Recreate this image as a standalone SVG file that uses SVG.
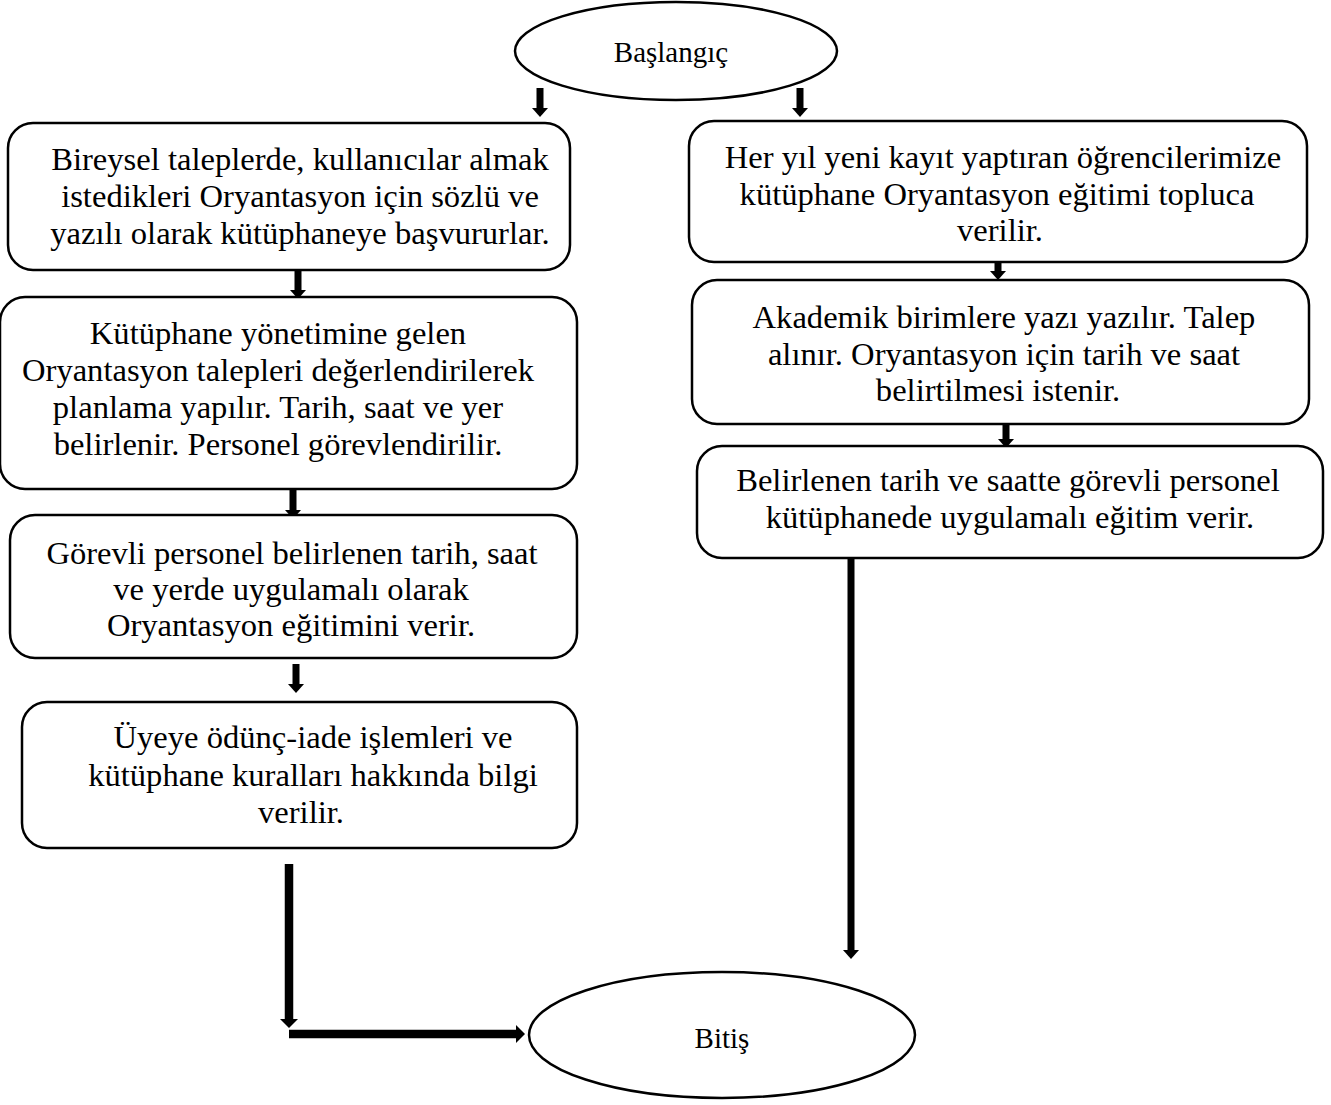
<svg xmlns="http://www.w3.org/2000/svg" width="1331" height="1105" viewBox="0 0 1331 1105">
  <style>
    .box { fill: #ffffff; stroke: #000000; stroke-width: 2.5; }
    .term { fill: #ffffff; stroke: #000000; stroke-width: 2.5; }
    .t { font-family: "Liberation Serif", "Times New Roman", serif; font-size: 32.6px; fill: #000000; text-anchor: middle; }
    .tt { font-family: "Liberation Serif", "Times New Roman", serif; font-size: 29px; fill: #000000; text-anchor: middle; }
    .arr { stroke: #000000; stroke-width: 7; fill: none; marker-end: url(#head); }
    .arrw { stroke: #000000; stroke-width: 8.5; fill: none; marker-end: url(#headw); }
  </style>
  <defs>
    <marker id="head" markerUnits="userSpaceOnUse" viewBox="0 0 9 16" markerWidth="9" markerHeight="16" refX="1" refY="8" orient="auto">
      <path d="M0,0 L9,8 L0,16 Z" fill="#000000"/>
    </marker>
    <marker id="headw" markerUnits="userSpaceOnUse" viewBox="0 0 9 18" markerWidth="9" markerHeight="18" refX="1" refY="9" orient="auto">
      <path d="M0,0 L9,9 L0,18 Z" fill="#000000"/>
    </marker>
  </defs>
  <rect width="1331" height="1105" fill="#ffffff"/>

  <!-- connectors -->
  <g id="connectors">
    <line class="arr" x1="540" y1="88" x2="540" y2="109"/>
    <line class="arr" x1="800" y1="88" x2="800" y2="109"/>
    <line class="arr" x1="298" y1="268" x2="298" y2="291"/>
    <line class="arr" x1="293" y1="483" x2="293" y2="511"/>
    <line class="arr" x1="296" y1="664" x2="296" y2="685"/>
    <line class="arr" x1="998" y1="254" x2="998" y2="272"/>
    <line class="arr" x1="1006" y1="418" x2="1006" y2="440"/>
    <line class="arr" x1="851" y1="559" x2="851" y2="951"/>
    <line class="arrw" x1="289" y1="864" x2="289" y2="1020"/>
    <line class="arrw" x1="289" y1="1034" x2="517" y2="1034"/>
  </g>

  <!-- start terminal -->
  <g id="start">
    <ellipse class="term" cx="676" cy="51" rx="161" ry="49"/>
    <text class="tt" x="671" y="62">Başlangıç</text>
  </g>

  <!-- individual request path -->
  <g id="left1">
    <rect class="box" x="8" y="123" width="562" height="147" rx="25" ry="25"/>
    <text class="t" x="300" y="170">Bireysel taleplerde, kullanıcılar almak</text>
    <text class="t" x="300" y="207">istedikleri Oryantasyon için sözlü ve</text>
    <text class="t" x="300" y="244">yazılı olarak kütüphaneye başvururlar.</text>
  </g>
  <g id="left2">
    <rect class="box" x="0" y="297" width="577" height="192" rx="25" ry="25"/>
    <text class="t" x="278" y="344">Kütüphane yönetimine gelen</text>
    <text class="t" x="278" y="381">Oryantasyon talepleri değerlendirilerek</text>
    <text class="t" x="278" y="418">planlama yapılır. Tarih, saat ve yer</text>
    <text class="t" x="278" y="455">belirlenir. Personel görevlendirilir.</text>
  </g>
  <g id="left3">
    <rect class="box" x="10" y="515" width="567" height="143" rx="25" ry="25"/>
    <text class="t" x="292" y="564">Görevli personel belirlenen tarih, saat</text>
    <text class="t" x="291" y="600">ve yerde uygulamalı olarak</text>
    <text class="t" x="291" y="636">Oryantasyon eğitimini verir.</text>
  </g>
  <g id="left4">
    <rect class="box" x="22" y="702" width="555" height="146" rx="25" ry="25"/>
    <text class="t" x="313" y="748">Üyeye ödünç-iade işlemleri ve</text>
    <text class="t" x="313" y="786">kütüphane kuralları hakkında bilgi</text>
    <text class="t" x="301" y="823">verilir.</text>
  </g>

  <!-- new student path -->
  <g id="right1">
    <rect class="box" x="689" y="121" width="618" height="141" rx="25" ry="25"/>
    <text class="t" x="1003" y="168">Her yıl yeni kayıt yaptıran öğrencilerimize</text>
    <text class="t" x="997" y="205">kütüphane Oryantasyon eğitimi topluca</text>
    <text class="t" x="1000" y="241">verilir.</text>
  </g>
  <g id="right2">
    <rect class="box" x="692" y="280" width="617" height="144" rx="25" ry="25"/>
    <text class="t" x="1004" y="328">Akademik birimlere yazı yazılır. Talep</text>
    <text class="t" x="1004" y="365">alınır. Oryantasyon için tarih ve saat</text>
    <text class="t" x="998" y="401">belirtilmesi istenir.</text>
  </g>
  <g id="right3">
    <rect class="box" x="697" y="446" width="626" height="112" rx="25" ry="25"/>
    <text class="t" x="1008" y="491">Belirlenen tarih ve saatte görevli personel</text>
    <text class="t" x="1010" y="528">kütüphanede uygulamalı eğitim verir.</text>
  </g>

  <!-- end terminal -->
  <g id="end">
    <ellipse class="term" cx="722" cy="1035" rx="193" ry="63"/>
    <text class="tt" x="722" y="1048">Bitiş</text>
  </g>
</svg>
